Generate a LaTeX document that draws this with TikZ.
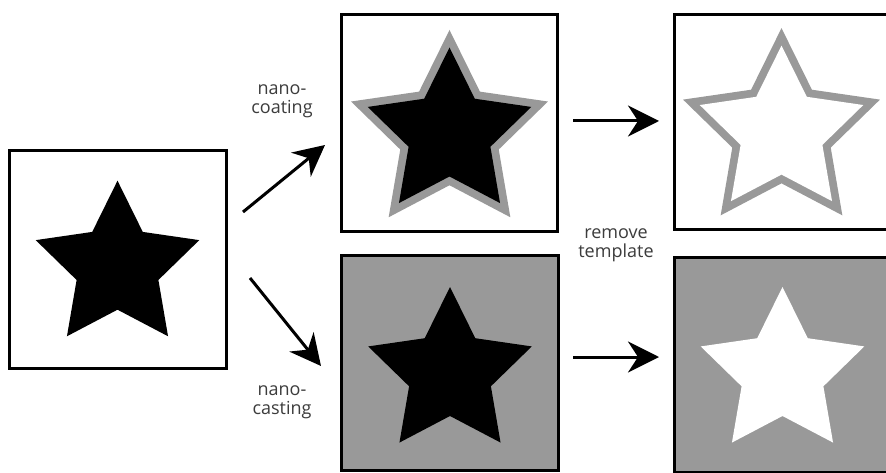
\documentclass[tikz,border=0pt]{standalone}
\usepackage{fontspec}
\setmainfont{Open Sans}
\usetikzlibrary{arrows.meta}
\definecolor{midgrey}{HTML}{999999}
\definecolor{labelgrey}{HTML}{3C3C3C}
\newcommand{\starshape}[1]{(-90:86) -- (-54:43) -- (-18:86) -- (18:43) -- (54:86) -- (90:43) -- (126:86) -- (162:43) -- (198:86) -- (234:43) -- cycle}
\tikzset{
  panel/.style={draw=black, line width=3pt, inner sep=0pt, minimum width=217pt, minimum height=217pt},
  greypanel/.style={panel, fill=midgrey},
  flow/.style={line width=3pt, -{Stealth[length=31pt, width=31pt, inset=10pt]}},
  lbl/.style={text=labelgrey, align=center, font=\fontsize{18}{19}\selectfont, inner sep=0pt},
}
\begin{document}
\begin{tikzpicture}[x=1pt, y=-1pt]
\clip (0,0) rectangle (886,473);
\fill[white] (0,0) rectangle (886,473);

% panels
\node[panel] (tmpl) at (118,259.5) {};
\node[panel, minimum height=217pt, minimum width=216pt] (coat) at (449.5,123) {};
\node[panel, minimum height=215pt] (hollow) at (783,122) {};
\node[greypanel, minimum height=215pt, minimum width=217pt] (cast) at (450,363) {};
\node[greypanel, minimum height=215pt] (inverse) at (783,364.5) {};

% stars
\fill[black, shift={(117.5,266.7)}] \starshape{};
\filldraw[fill=midgrey, draw=midgrey, line width=15.5pt, line join=miter, shift={(449.5,133.5)}] \starshape{};
\fill[black, shift={(449.5,133.5)}] \starshape{};
\draw[midgrey, line width=15.5pt, line join=miter, shift={(781.5,131.6)}] \starshape{};
\fill[white, shift={(781.5,131.6)}] \starshape{};
\fill[black, shift={(450,373)}] \starshape{};
\fill[white, shift={(782.5,373)}] \starshape{};

% arrow end points
\coordinate (upS) at (243,212);
\coordinate (upE) at (325,145);
\coordinate (dnS) at (250,278);
\coordinate (dnE) at (321,366);
\coordinate (t1S) at (573,121);
\coordinate (t1E) at (659,121);
\coordinate (b1S) at (573,357);
\coordinate (b1E) at (659,357);

\draw[flow] (upS) -- (upE);
\draw[flow] (dnS) -- (dnE);
\draw[flow] (t1S) -- (t1E);
\draw[flow] (b1S) -- (b1E);

% labels
\node[lbl] (lcoat) at (282,101) {nano-\\coating};
\node[lbl] (lcast) at (282,402) {nano-\\casting};
\node[lbl] (lrem) at (616,245) {remove\\template};
\end{tikzpicture}
\end{document}
